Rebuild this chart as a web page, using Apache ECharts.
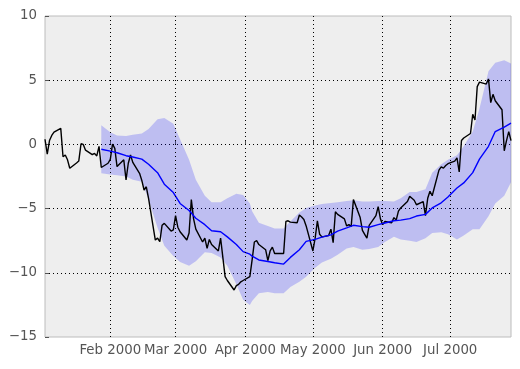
<!DOCTYPE html>
<html><head><meta charset="utf-8">
<script src="https://cdn.jsdelivr.net/npm/echarts@6/dist/echarts.min.js"></script>
<style>html,body{margin:0;padding:0;background:#fff}#c{width:520px;height:369px}</style>
</head><body><div id="c"></div>
<script>
// Business days (MM-DD, year 2000)
const days = [
'01-03','01-04','01-05','01-06','01-07','01-10','01-11','01-12','01-13','01-14',
'01-17','01-18','01-19','01-20','01-21','01-24','01-25','01-26','01-27','01-28',
'01-31','02-01','02-02','02-03','02-04','02-07','02-08','02-09','02-10','02-11',
'02-14','02-15','02-16','02-17','02-18','02-21','02-22','02-23','02-24','02-25',
'02-28','02-29','03-01','03-02','03-03','03-06','03-07','03-08','03-09','03-10',
'03-13','03-14','03-15','03-16','03-17','03-20','03-21','03-22','03-23','03-24',
'03-27','03-28','03-29','03-30','03-31','04-03','04-04','04-05','04-06','04-07',
'04-10','04-11','04-12','04-13','04-14','04-17','04-18','04-19','04-20','04-21',
'04-24','04-25','04-26','04-27','04-28','05-01','05-02','05-03','05-04','05-05',
'05-08','05-09','05-10','05-11','05-12','05-15','05-16','05-17','05-18','05-19',
'05-22','05-23','05-24','05-25','05-26','05-29','05-30','05-31','06-01','06-02',
'06-05','06-06','06-07','06-08','06-09','06-12','06-13','06-14','06-15','06-16',
'06-19','06-20','06-21','06-22','06-23','06-26','06-27','06-28','06-29','06-30',
'07-03','07-04','07-05','07-06','07-07','07-10','07-11','07-12','07-13','07-14',
'07-17','07-18','07-19','07-20','07-21','07-24','07-25','07-26','07-27','07-28'
];
const values = [
0.4,-0.75,0.3,0.7,0.95, 1.25,-0.96,-0.83,-1.2,-1.86,
-1.45,-1.3,0.05,0.0,-0.45, -0.8,-0.7,-0.9,-0.15,-1.8,
-1.47,-1.16,0.03,-0.31,-1.73, -1.2,-2.77,-1.47,-0.83,-1.4,
-2.25,-2.8,-3.55,-3.3,-4.2, -7.45,-7.3,-7.58,-6.3,-6.15,
-6.75,-6.65,-5.55,-6.45,-6.8, -7.45,-6.9,-4.3,-5.8,-6.6,
-7.6,-7.3,-8.1,-7.4,-7.8, -8.3,-7.3,-8.8,-10.3,-10.6,
-11.34,-11.0,-10.9,-10.7,-10.6, -10.3,-9.0,-7.6,-7.5,-7.8,
-8.2,-9.05,-8.3,-8.0,-8.5, -8.5,-8.5,-6.0,-5.95,-6.05,
-6.1,-5.5,-5.65,-5.85,-6.35, -8.3,-7.3,-5.95,-7.0,-7.2,
-7.1,-6.6,-7.65,-5.25,-5.45, -5.8,-6.35,-6.25,-6.4,-4.3,
-5.7,-6.7,-7.0,-7.3,-6.3, -5.55,-4.85,-5.8,-6.25,-6.0,
-6.1,-5.7,-5.9,-5.2,-4.95, -4.45,-4.05,-4.2,-4.35,-4.7,
-4.45,-5.55,-4.2,-3.65,-4.0, -2.0,-1.75,-1.85,-1.65,-1.5,
-1.3,-1.05,-2.15,0.3,0.5, 0.85,2.35,1.9,4.5,4.85,
4.7,5.1,3.25,3.9,3.4, 2.7,-0.5,0.3,1.0,0.3
];
// Rolling band
const bandDays = ['01-28','02-01','02-04','02-08','02-11','02-15','02-18','02-22','02-25','02-29',
'03-03','03-07','03-10','03-14','03-17','03-21','03-24','03-28','03-31','04-03','04-04','04-07',
'04-11','04-14','04-18','04-21','04-25','04-28','05-02','05-05','05-09','05-12','05-16',
'05-19','05-23','05-26','05-30','06-02','06-06','06-09','06-13','06-16','06-20','06-23',
'06-27','06-30','07-04','07-07','07-11','07-14','07-18','07-21','07-25','07-28'];
const meanValues = [-0.38,-0.52,-0.65,-0.88,-0.98,-1.15,-1.55,-2.2,-3.1,-3.75,
-4.6,-5.15,-5.75,-6.25,-6.72,-6.8,-7.2,-7.8,-8.35,-8.55,-8.7,-9.0,
-9.12,-9.22,-9.32,-8.8,-8.2,-7.55,-7.4,-7.22,-7.05,-6.75,-6.5,
-6.3,-6.4,-6.45,-6.25,-6.12,-5.95,-5.9,-5.78,-5.58,-5.45,-4.95,
-4.55,-4.1,-3.4,-3.0,-2.2,-1.15,-0.15,1.0,1.35,1.65];
const upperValues = [1.5,0.95,0.7,0.65,0.75,0.85,1.2,1.95,2.05,1.6,
0.4,-1.2,-2.75,-4.0,-4.5,-4.5,-4.2,-3.85,-3.95,-4.6,-5.2,-6.1,
-6.35,-6.55,-6.55,-6.0,-5.3,-4.95,-4.75,-4.65,-4.57,-4.5,-4.4,
-4.35,-4.45,-4.45,-4.4,-4.4,-4.45,-4.2,-3.7,-3.7,-3.5,-2.2,
-1.55,-1.2,-0.85,-0.15,1.0,2.8,5.7,6.35,6.55,6.3];
const lowerValues = [-2.25,-2.35,-2.4,-2.5,-2.75,-2.9,-4.3,-6.5,-7.9,-8.7,
-9.15,-9.45,-9.1,-8.4,-8.45,-8.8,-9.45,-10.9,-12.1,-12.5,-12.2,-11.6,
-11.5,-11.6,-11.6,-11.1,-10.7,-10.3,-9.6,-9.2,-8.9,-8.6,-8.1,
-8.0,-8.2,-8.15,-8.0,-7.6,-7.2,-7.4,-7.5,-7.6,-7.3,-6.9,
-6.85,-7.0,-7.4,-7.1,-6.6,-6.6,-5.6,-4.6,-4.0,-2.95];
const xTickDays = ['02-01','03-01','04-01','05-01','06-01','07-01'];
const xTickLabels = ['Feb 2000','Mar 2000','Apr 2000','May 2000','Jun 2000','Jul 2000'];
const yTicks = [-15,-10,-5,0,5,10];

function ts(s){ const p = s.split('-'); return Date.UTC(2000, +p[0]-1, +p[1]); }
const xTickTs = xTickDays.map(ts);
const bandTs = bandDays.map(ts);

const chart = echarts.init(document.getElementById('c'), null, {renderer:'canvas'});
const font = {fontFamily:'DejaVu Sans', fontSize:13.33, color:'#555555'};
const dotted = {color:'#000', width:1, type:[1,3]};
chart.setOption({
  animation:false,
  grid:{left:45, right:9, top:16, bottom:32, show:true, backgroundColor:'#eeeeee',
        borderColor:'#bcbcbc', borderWidth:1, outerBoundsMode:'none', containLabel:false},
  xAxis:{type:'value', min:ts(days[0]), max:ts(days[days.length-1]), scale:true,
    axisLine:{show:false},
    axisTick:{show:true, inside:true, length:4, customValues:xTickTs, lineStyle:{color:'#555'}},
    axisLabel:Object.assign({customValues:xTickTs, margin:7, showMinLabel:true, showMaxLabel:true,
      formatter:(v)=>{const i=xTickTs.indexOf(v); return i>=0?xTickLabels[i]:'';}}, font),
    splitLine:{show:false}
  },
  yAxis:{type:'value', min:yTicks[0], max:yTicks[yTicks.length-1], interval:5,
    axisLine:{show:false},
    axisTick:{show:true, inside:true, length:4, lineStyle:{color:'#555'}},
    axisLabel:Object.assign({margin:8, formatter:(v)=>String(v).replace('-','\u2212')}, font),
    splitLine:{show:true, showMinLine:false, showMaxLine:false, lineStyle:dotted}
  },
  series:[
    {type:'line', z:0, silent:true, data:[],
     markLine:{silent:true, symbol:['none','none'], label:{show:false}, animation:false,
       lineStyle:dotted, emphasis:{disabled:true},
       data:xTickTs.map(t=>({xAxis:t}))}},
    {type:'custom', silent:true, z:1, clip:true,
     data:[[bandTs[0], upperValues[0]]],
     renderItem:(params, api)=>{
       const pts=[];
       for(let i=0;i<bandTs.length;i++) pts.push(api.coord([bandTs[i], upperValues[i]]));
       for(let i=bandTs.length-1;i>=0;i--) pts.push(api.coord([bandTs[i], lowerValues[i]]));
       return {type:'polygon', shape:{points:pts}, style:{fill:'rgba(0,0,255,0.2)'}};
     }},
    {type:'line', z:3, showSymbol:false, silent:true,
     data:days.map((d,i)=>[ts(d), values[i]]),
     lineStyle:{color:'#000000', width:1.4}},
    {type:'line', z:4, showSymbol:false, silent:true,
     data:bandTs.map((t,i)=>[t, meanValues[i]]),
     lineStyle:{color:'#0000ff', width:1.4}}
  ]
});
</script></body></html>
